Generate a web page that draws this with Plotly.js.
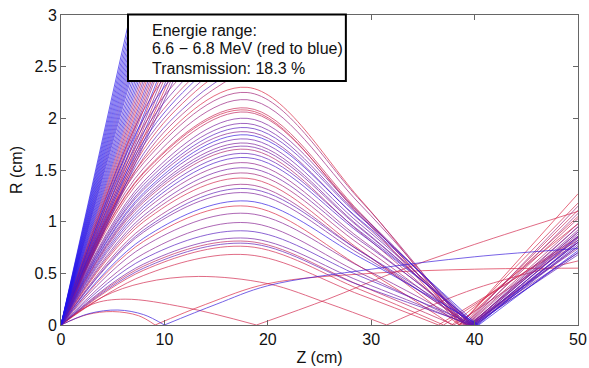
<!DOCTYPE html>
<html>
<head>
<meta charset="utf-8">
<script src="https://cdn.plot.ly/plotly-3.0.1.min.js"></script>
<style>html,body{margin:0;padding:0;background:#fff}#plot{width:589px;height:368px}</style>
</head>
<body>
<div id="plot"></div>
<script>
// ---- Focused (transmitted) trajectories ----
const focusPeak  = [2.30,2.25,2.18,2.10,2.08,2.06,2.00,1.95,1.91,1.87,1.84,1.80,1.76,1.73,1.70,1.66,1.62,1.57,1.52,1.47,1.42,1.36,1.32,1.28,1.20,1.15,1.08,0.99,0.91,0.84,0.81,0.79,0.76,0.68];
const focusR8    = [1.60,1.57,1.52,1.48,1.47,1.44,1.39,1.36,1.33,1.31,1.28,1.26,1.23,1.21,1.19,1.16,1.13,1.10,1.06,1.03,1.00,0.95,0.92,0.90,0.84,0.81,0.76,0.69,0.64,0.59,0.57,0.55,0.53,0.48];
const focusR29   = [1.21,1.20,1.16,1.08,1.05,1.07,1.07,1.05,1.04,1.00,1.01,0.97,0.94,0.93,0.89,0.90,0.88,0.83,0.81,0.77,0.72,0.71,0.71,0.68,0.65,0.56,0.56,0.50,0.47,0.42,0.38,0.38,0.34,0.29];
const focusZero  = [38.6,39.0,39.2,38.8,38.5,39.0,39.6,39.8,40.0,39.6,40.3,39.9,39.7,39.8,39.2,40.1,40.2,39.5,39.9,39.3,38.5,39.4,40.1,39.7,40.4,37.8,39.6,39.3,40.0,39.5,38.0,39.8,37.0,36.5];
const focusEnd   = [1.27,1.15,1.08,1.11,1.18,1.03,0.95,0.90,0.86,0.92,0.82,0.85,0.88,0.84,0.98,0.80,0.78,0.90,0.80,0.95,1.05,0.86,0.76,0.80,0.72,0.98,0.76,0.74,0.70,0.70,0.80,0.68,0.85,0.82];
const focusEnergy= [0.05,0.35,0.40,0.15,0.10,0.20,0.55,0.60,0.75,0.50,0.90,0.65,0.55,0.60,0.30,0.70,0.80,0.45,0.60,0.35,0.10,0.40,0.70,0.55,0.95,0.05,0.50,0.50,0.75,0.60,0.20,0.70,0.10,0.10];
const peakZ = 18;
const zAt8 = 8, zAt29 = 29, zEnd = 50;

// ---- Lost trajectories, straight from the source to the top ----
const fanTopZ   = [6.7,6.85,7.0,7.15,7.3,7.45,7.6,7.75,7.9,8.05,8.2,8.35,8.5,8.7,8.9,9.1,9.3,9.5,9.7,9.9,10.1,10.3,10.5,10.7,10.9,11.1,11.3,11.5,11.8,12.0,12.3,12.6,12.9,13.2,13.5,13.8];
const fanEnergy = [1.0,0.95,1.0,0.9,1.0,0.95,1.0,0.9,0.95,0.85,1.0,0.9,0.95,0.85,1.0,0.8,0.95,0.9,0.6,0.2,0.7,0.4,0.05,0.8,0.5,0.15,0.65,0.3,0.9,0.1,0.55,0.25,0.7,0.05,0.45,0.6];

// ---- Lost trajectories that bend under the text box ----
const lostZ = [0,8,13,17];
const lostR = [[0,1.62,2.15,2.42],[0,1.66,2.20,2.48],[0,1.70,2.26,2.55],[0,1.74,2.31,2.62],[0,1.78,2.37,2.68],
               [0,1.82,2.42,2.75],[0,1.87,2.48,2.80],[0,1.93,2.55,2.90],[0,2.00,2.65,3.00],[0,2.08,2.75,3.10]];
const lostEnergy = [0.3,0.7,0.1,0.55,0.85,0.2,0.6,0.4,0.9,0.15];

// ---- Low-angle trajectories that cross the axis early ----
const lowPreZ  = [[0,2.5,5,7.5,9.1],[0,2.7,5.5,8,10],[0,3,6.2,12,18.9],[0,4,8,13.3,20,25.8,31.5]];
const lowPreR  = [[0,0.10,0.13,0.09,0],[0,0.11,0.145,0.10,0],[0,0.20,0.25,0.17,0],[0,0.27,0.41,0.47,0.40,0.21,0]];
const lowPostZ = [[9.1,14,20,30,40,50],[10,15,20,30,40,50],[18.9,25.8,32,40,50],[31.5,40,50]];
const lowPostR = [[0,0.20,0.40,0.50,0.54,0.55],[0,0.20,0.38,0.54,0.66,0.74],[0,0.25,0.50,0.78,1.10],[0,0.35,0.62]];
const lowEnergy = [0.05,0.9,0.1,0.1];

const xTicks = [0,10,20,30,40,50];
const yTicks = [0,0.5,1,1.5,2,2.5,3];
const yTickText = ['0','0.5','1','1.5','2','2.5','3'];
const boxLines = ['Energie range:','6.6 − 6.8 MeV (red to blue)','Transmission: 18.3 %'];

function col(t){
  const r = Math.round(228*(1-t) + 35*t);
  const g = Math.round(35*(1-t) + 20*t);
  const b = Math.round(55*(1-t) + 235*t);
  return 'rgb('+r+','+g+','+b+')';
}

const items = [];
focusPeak.forEach((p,i)=>{
  items.push({t:focusEnergy[i],
    x:[0,zAt8,peakZ,zAt29,focusZero[i],null,focusZero[i],zEnd],
    y:[0,focusR8[i],p,focusR29[i],0,null,0,focusEnd[i]]});
});
fanTopZ.forEach((z,i)=>{
  items.push({t:fanEnergy[i], x:[0,z], y:[0,3]});
});
lostR.forEach((rs,i)=>{
  items.push({t:lostEnergy[i], x:lostZ, y:rs});
});
lowPreZ.forEach((zs,i)=>{
  items.push({t:lowEnergy[i],
    x:zs.concat([null]).concat(lowPostZ[i]),
    y:lowPreR[i].concat([null]).concat(lowPostR[i])});
});
items.sort((a,b)=>a.t-b.t);

const traces = items.map(it=>({
  type:'scatter', mode:'lines', x:it.x, y:it.y,
  line:{color:col(it.t), width:0.9, shape:'spline', smoothing:1},
  opacity:0.75, hoverinfo:'skip', showlegend:false, connectgaps:false
}));

const font = {family:'Liberation Sans, Arial, sans-serif', size:16, color:'#111'};
const boxY = [0.949, 0.891, 0.826];
const layout = {
  width:589, height:368,
  margin:{l:61, r:11, t:15, b:43},
  paper_bgcolor:'#fff', plot_bgcolor:'#fff',
  font:font,
  showlegend:false,
  xaxis:{range:[0,50], tickvals:xTicks, ticks:'inside', ticklen:5, tickcolor:'#666',
    showline:true, linecolor:'#666', linewidth:1, mirror:'ticks', showgrid:false, zeroline:false,
    tickfont:font, title:{text:'Z (cm)', font:font, standoff:4}, automargin:false},
  yaxis:{range:[0,3], tickvals:yTicks, ticktext:yTickText, ticks:'inside', ticklen:5, tickcolor:'#666',
    showline:true, linecolor:'#666', linewidth:1, mirror:'ticks', showgrid:false, zeroline:false,
    tickfont:font, title:{text:'R (cm)', font:font, standoff:7}, automargin:false},
  shapes:[{type:'rect', xref:'paper', yref:'paper', x0:0.1296, x1:0.551, y0:0.787, y1:1.002,
    line:{color:'#000', width:2}, fillcolor:'#fff', layer:'above'}],
  annotations: boxLines.map((s,i)=>({xref:'paper', yref:'paper', x:0.172, y:boxY[i],
    xanchor:'left', yanchor:'middle', align:'left', showarrow:false, font:font, text:s}))
};
Plotly.newPlot('plot', traces, layout, {displayModeBar:false, staticPlot:true});
</script>
</body>
</html>
